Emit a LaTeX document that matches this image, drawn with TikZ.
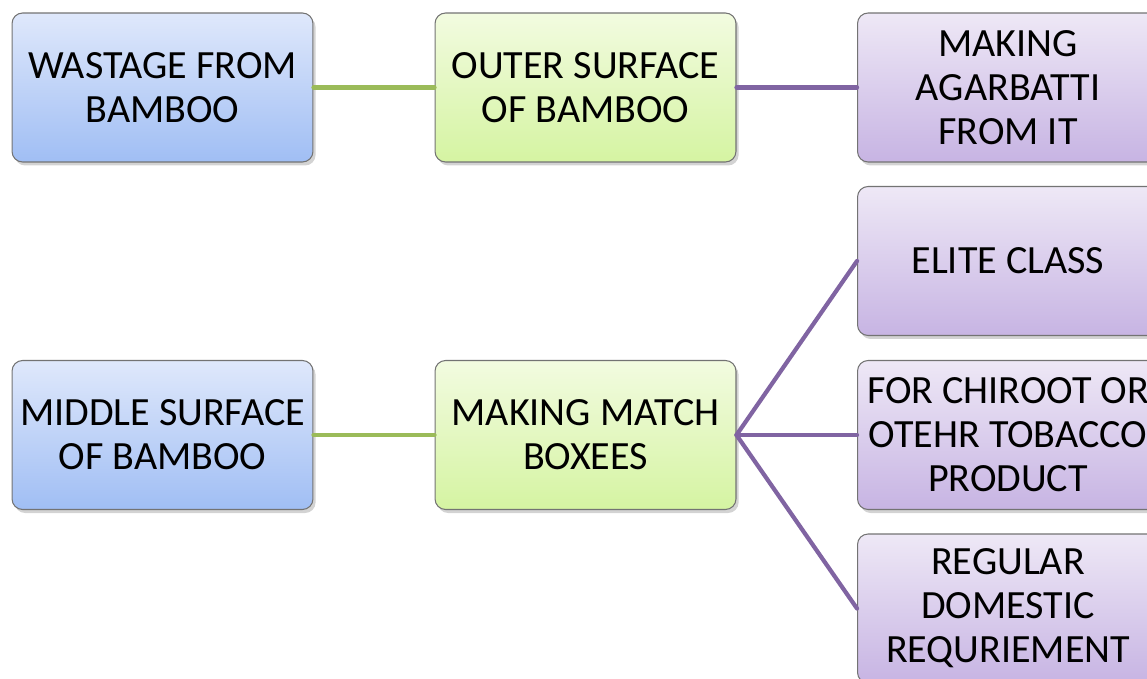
\documentclass[tikz,border=0pt]{standalone}
\usepackage{fontspec}
\setmainfont{Carlito}
\usepackage{tikz}
\usetikzlibrary{shadows}

\begin{document}
\begin{tikzpicture}
		[x=0.02cm,y=-0.02cm,line cap=round,
		%Styles
		box/.style={rounded corners=6pt,draw=black!55,line width=0.6pt,
			minimum width=6.02cm,minimum height=2.98cm,align=center,inner sep=0pt,
			font=\fontsize{22.8}{25}\selectfont,
			drop shadow={shadow xshift=1.5pt,shadow yshift=-2pt,opacity=0.35}},
		source box/.style={box,top color=blueTop,bottom color=blueBot},
		use box/.style={box,top color=greenTop,bottom color=greenBot},
		product box/.style={box,top color=purpleTop,bottom color=purpleBot},
		green link/.style={line width=2.4pt,draw=greenLine},
		purple link/.style={line width=2.4pt,draw=purpleLine}
		]
		
		%Colors
		\definecolor{blueTop}{HTML}{DFE8FB}
		\definecolor{blueBot}{HTML}{A0BEF4}
		\definecolor{greenTop}{HTML}{F2FBE0}
		\definecolor{greenBot}{HTML}{D5F4A2}
		\definecolor{purpleTop}{HTML}{EEE8F6}
		\definecolor{purpleBot}{HTML}{C7B4E3}
		\definecolor{greenLine}{HTML}{9BBB59}
		\definecolor{purpleLine}{HTML}{8064A2}
		
		\useasboundingbox (0,0) rectangle (1147,679);
		\clip (0,0) rectangle (1147,679);
		
		%The graphic
		\node[source box] (wastage) at (162.5,87.5) {WASTAGE FROM\\BAMBOO};
		\node[use box] (outer) at (585.5,87.5) {OUTER SURFACE\\OF BAMBOO};
		\node[product box] (agarbatti) at (1008,87.5) {MAKING\\AGARBATTI\\FROM IT};
		
		\node[source box] (middle) at (162.5,435) {MIDDLE SURFACE\\OF BAMBOO};
		\node[use box] (match) at (585.5,435) {MAKING MATCH\\BOXEES};
		\node[product box] (elite) at (1008,261) {ELITE CLASS};
		\node[product box] (tobacco) at (1008,435) {FOR CHIROOT OR\\OTEHR TOBACCO\\PRODUCT};
		\node[product box] (domestic) at (1008,608.5) {REGULAR\\DOMESTIC\\REQURIEMENT};
		
		%Links
		\draw[green link] (wastage.east) -- (outer.west);
		\draw[purple link] (outer.east) -- (agarbatti.west);
		\draw[green link] (middle.east) -- (match.west);
		\draw[purple link] (match.east) -- (elite.west);
		\draw[purple link] (match.east) -- (tobacco.west);
		\draw[purple link] (match.east) -- (domestic.west);
	\end{tikzpicture}
\end{document}
